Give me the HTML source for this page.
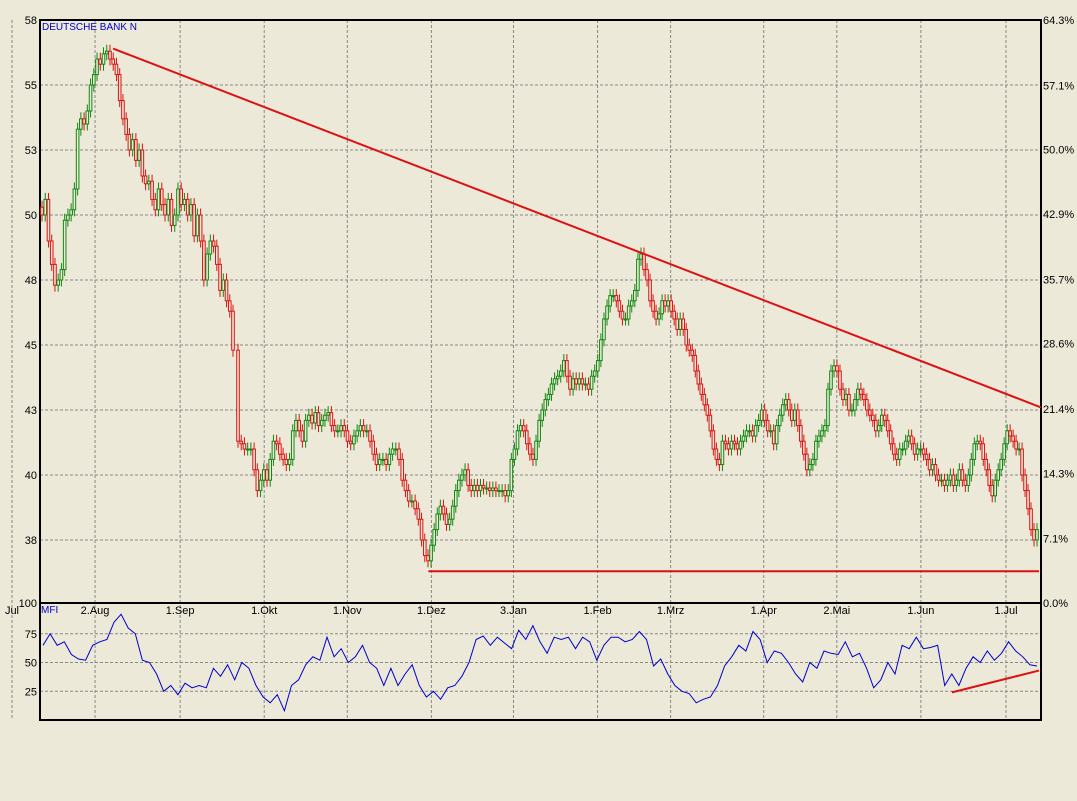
<!DOCTYPE html>
<html><head><meta charset="utf-8">
<style>
html,body{margin:0;padding:0;background:#ECE9D8;}
svg{display:block;font-family:"Liberation Sans",sans-serif;}
</style></head>
<body>
<svg id="chart" width="1077" height="801">
<g id="grid"></g>
<g id="axes"></g>
<g id="candles"></g>
<g id="mfi"></g>
<g id="ann"></g>
<text x="42" y="30" font-size="10" fill="#0000cc">DEUTSCHE BANK N</text>
<text x="41" y="613" font-size="10" fill="#0000cc">MFI</text>
</svg>
<script>
const closes=[50.0,50.6,49.0,48.1,47.3,47.5,47.9,49.8,50.0,50.2,51.0,53.3,53.7,53.5,54.0,55.0,55.4,56.0,55.8,56.2,56.3,56.0,55.8,55.4,54.4,53.7,53.1,52.5,52.9,52.1,52.5,51.5,51.2,51.3,50.6,50.2,51.0,50.4,50.0,50.6,49.6,50.0,51.0,50.4,50.6,50.0,50.4,49.2,50.0,49.0,47.5,48.5,49.0,48.8,48.1,47.1,47.5,46.7,46.3,44.8,
41.3,41.2,41.0,41.0,41.0,40.2,39.4,39.8,40.2,39.8,40.6,41.3,41.2,40.8,40.6,40.4,40.6,41.7,42.1,41.7,41.3,42.1,42.3,42.0,42.4,41.9,42.1,42.3,42.4,41.9,41.7,41.7,41.9,41.7,41.3,41.2,41.5,41.7,41.9,41.7,41.7,41.3,40.8,40.4,40.6,40.6,40.4,40.8,41.0,41.0,40.6,39.8,39.4,39.0,39.0,38.7,38.3,37.5,36.9,36.7,37.3,37.9,38.5,38.8,38.5,38.1,38.3,38.8,39.4,39.8,40.0,40.2,39.6,39.4,39.6,39.4,39.6,39.5,39.5,39.4,39.5,39.4,39.4,39.4,39.2,39.4,40.6,41.0,41.7,41.9,41.7,41.2,40.8,40.6,41.3,42.1,42.5,42.9,43.1,43.5,43.7,43.8,44.0,44.4,43.8,43.3,43.7,43.5,43.7,43.5,43.5,43.3,43.8,44.0,44.4,45.2,46.0,46.5,46.9,46.9,46.7,46.3,46.0,46.0,46.5,46.7,47.1,48.3,48.5,47.9,47.5,46.7,46.3,46.0,46.2,46.7,46.5,46.7,46.3,46.0,45.6,46.0,45.6,45.0,44.8,44.6,44.0,43.5,43.1,42.7,42.3,41.7,41.0,40.6,40.4,41.3,41.2,41.0,41.3,41.2,41.0,41.3,41.5,41.7,41.7,41.5,41.9,42.1,42.5,42.1,41.7,41.7,41.2,41.9,42.3,42.7,42.9,42.5,42.1,42.5,41.9,41.3,40.8,40.2,40.4,40.6,41.3,41.5,41.7,41.9,43.3,44.0,44.2,44.0,43.3,42.9,43.1,42.5,42.5,42.9,43.3,43.1,42.9,42.5,42.3,42.1,41.7,41.9,42.3,42.1,41.7,41.2,40.8,40.6,41.0,41.0,41.3,41.5,41.2,40.8,41.0,41.0,40.8,40.6,40.2,40.4,40.0,39.8,39.8,39.6,39.8,40.0,39.6,39.8,40.2,39.8,39.6,40.0,40.6,41.2,41.3,41.2,40.6,40.2,39.6,39.2,39.8,40.2,40.6,41.2,41.7,41.5,41.3,41.0,41.0,40.0,39.4,38.7,37.9,37.5,37.9];
const mfiValues=[65,75,65,68,57,53,52,65,68,70,85,92,80,75,52,50,40,25,30,22,32,28,30,28,45,38,48,35,50,45,30,20,15,22,8,30,35,48,55,52,72,55,62,50,55,65,50,45,30,45,30,40,48,30,20,25,18,28,30,38,50,70,73,65,72,67,62,78,70,82,68,58,72,70,72,62,72,68,52,65,72,72,68,70,77,70,47,53,40,30,25,23,15,18,20,30,47,55,65,60,77,70,50,60,58,50,40,33,50,45,60,58,57,68,55,58,45,28,35,50,40,65,62,72,62,63,65,30,40,30,45,55,50,60,52,58,68,60,55,48,47];
const priceTicks=[57.5,55,52.5,50,47.5,45,42.5,40,37.5];
const priceTickLabels=["58","55","53","50","48","45","43","40","38"];
const pctTicks=[64.3,57.1,50.0,42.9,35.7,28.6,21.4,14.3,7.1,0.0];
const monthLabels=["Jul","2.Aug","1.Sep","1.Okt","1.Nov","1.Dez","3.Jan","1.Feb","1.Mrz","1.Apr","2.Mai","1.Jun","1.Jul"];
const monthFrac=[-0.028,0.055,0.14,0.224,0.307,0.391,0.473,0.557,0.63,0.723,0.796,0.88,0.965];
const mfiTicks=[75,50,25];
const supportLevel=36.3;
const trendStart=[0.073,56.4], trendEnd=[1.0,42.6];
const mfiTrend=[[0.911,24],[0.998,43]];

const NS="http://www.w3.org/2000/svg";
const L=40,R=1041,T=20,B=603,MB=720;
const X0=43,X1=1037;
const anchorIdx=[0,59,60,119,188,252,320];
const anchorX=[42,233,238,428,641,834,1037];
const xf=f=>L+f*(R-L);
function xBar(i){
 for(let k=0;k<anchorIdx.length-1;k++){
  if(i<=anchorIdx[k+1]){const a=anchorIdx[k],b=anchorIdx[k+1];return anchorX[k]+(i-a)*(anchorX[k+1]-anchorX[k])/(b-a);}
 }
 return anchorX[anchorX.length-1];
}
const xi=(i,n)=>X0+i*(X1-X0)/(n-1);
const yP=v=>T+(57.5-v)*26;
const yM=v=>MB-v*1.15;
function mk(tag,attrs,parent){const e=document.createElementNS(NS,tag);for(const k in attrs)e.setAttribute(k,attrs[k]);parent.appendChild(e);return e;}
const grid=document.getElementById('grid'),axes=document.getElementById('axes');
priceTicks.forEach((v,i)=>{
 const y=yP(v);
 if(i>0){const g=mk('line',{x1:L,x2:R,y1:y,y2:y,stroke:'#888',"stroke-dasharray":'3,2'},grid);
 
 }
 const t=mk('text',{x:37,y:y+4,"font-size":11,"text-anchor":'end',fill:'#000'},axes);t.textContent=priceTickLabels[i];
 
 
});
pctTicks.forEach(p=>{
 const y=B-p/64.3*(B-T);
 const t=mk('text',{x:1043,y:y+4,"font-size":11,fill:'#000'},axes);t.textContent=p.toFixed(1)+'%';
 
 
});
mfiTicks.forEach(v=>{
 const y=yM(v);
 const g=mk('line',{x1:L,x2:R,y1:y,y2:y,stroke:'#888',"stroke-dasharray":'3,2'},grid);
 
 
 const t=mk('text',{x:37,y:y+4,"font-size":11,"text-anchor":'end',fill:'#000'},axes);t.textContent=v;
 
 
});
monthLabels.forEach((m,i)=>{
 const x=xf(monthFrac[i]);
 const g=mk('line',{x1:x,x2:x,y1:T,y2:MB,stroke:'#888',"stroke-dasharray":'3,2'},grid);
 
 
 const t=mk('text',{x:x,y:614,"font-size":11,"text-anchor":'middle',fill:'#000'},axes);t.textContent=m;
 
 
});
const t100=mk('text',{x:37,y:607,"font-size":11,"text-anchor":'end',fill:'#000'},axes);t100.textContent='100';


const bx=mk('rect',{x:L,y:T,width:R-L,height:B-T,fill:'none',stroke:'#000',"stroke-width":2},axes);


const bm=mk('rect',{x:L,y:B,width:R-L,height:MB-B,fill:'none',stroke:'#000',"stroke-width":2},axes);


const cg=document.getElementById('candles');
closes.forEach((c,i)=>{
 const o=i>0?closes[i-1]:c+0.3;
 const up=c>=o;const col=up?'#118811':'#dd1111';
 const x=xBar(i);
 const hi=Math.max(o,c)+0.25,lo=Math.min(o,c)-0.25;
 const w=mk('line',{x1:x,x2:x,y1:yP(hi),y2:yP(lo),stroke:col,"stroke-width":1},cg);
 
 
 const yt=yP(Math.max(o,c)),yb=yP(Math.min(o,c));
 const b=mk('rect',{x:x-1.3,y:yt,width:2.6,height:Math.max(1,yb-yt),fill:'#ECE9D8',stroke:col,"stroke-width":1},cg);
 
 
});
const mg=document.getElementById('mfi');
const pts=mfiValues.map((v,i)=>xi(i,mfiValues.length).toFixed(1)+','+yM(v).toFixed(1)).join(' ');
const pl=mk('polyline',{points:pts,fill:'none',stroke:'#0000cc',"stroke-width":1},mg);


const ag=document.getElementById('ann');
const l1=mk('line',{x1:xf(trendStart[0]),y1:yP(trendStart[1]),x2:xf(trendEnd[0]),y2:yP(trendEnd[1]),stroke:'#dd1111',"stroke-width":2},ag);


const l2=mk('line',{x1:xf(0.388),y1:yP(supportLevel),x2:xf(0.998),y2:yP(supportLevel),stroke:'#dd1111',"stroke-width":2},ag);


const l3=mk('line',{x1:xf(mfiTrend[0][0]),y1:yM(mfiTrend[0][1]),x2:xf(mfiTrend[1][0]),y2:yM(mfiTrend[1][1]),stroke:'#dd1111',"stroke-width":2},ag);


</script>
</body></html>
